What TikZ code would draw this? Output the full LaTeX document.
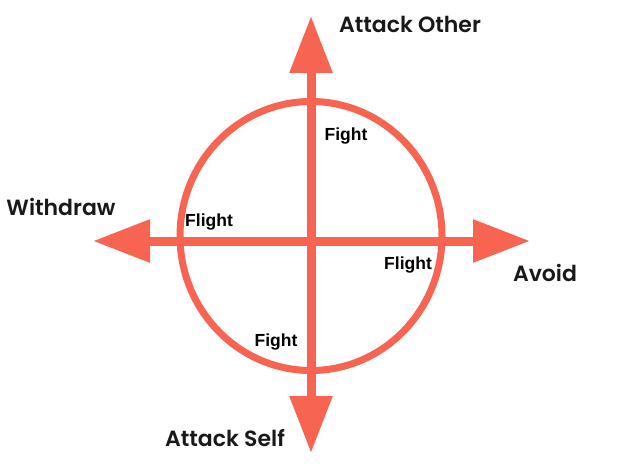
\documentclass[tikz,border=0pt]{standalone}
\usepackage{fontspec}
\setmainfont{Liberation Sans}
\newfontfamily\bigf{Poppins SemiBold}
\usetikzlibrary{arrows.meta}
\definecolor{coral}{RGB}{248,100,82}
\tikzset{
  axis/.style={draw=coral, line width=9pt, {Triangle[length=57pt,width=41pt]}-{Triangle[length=57pt,width=41pt]}},
  ring/.style={draw=coral, line width=7pt},
  biglab/.style={font=\bigf\fontsize{22}{25}\selectfont, text=black!90, inner sep=0pt},
  smalllab/.style={font=\bfseries\fontsize{17.5}{20}\selectfont, text=black, inner sep=0pt}
}
\begin{document}
\begin{tikzpicture}[x=1pt,y=-1pt]
\useasboundingbox (0,0) rectangle (631,465);
\coordinate (c) at (311,236);
\coordinate (top) at (311,16);
\coordinate (bot) at (311,453);
\coordinate (lft) at (93,241);
\coordinate (rgt) at (530,241);
\draw[ring] (c) ellipse [x radius=131, y radius=134.5];
\draw[axis] (bot) -- (top);
\draw[axis] (lft) -- (rgt);
\node[biglab] (ao) at (410,24) {Attack Other};
\node[biglab] (wd) at (61,207) {Withdraw};
\node[biglab] (av) at (545,273) {Avoid};
\node[biglab] (as) at (225,438) {Attack Self};
\node[smalllab] (f1) at (346,136) {Fight};
\node[smalllab] (f2) at (209,222) {Flight};
\node[smalllab] (f3) at (408,265) {Flight};
\node[smalllab] (f4) at (276,342) {Fight};
\end{tikzpicture}
\end{document}
